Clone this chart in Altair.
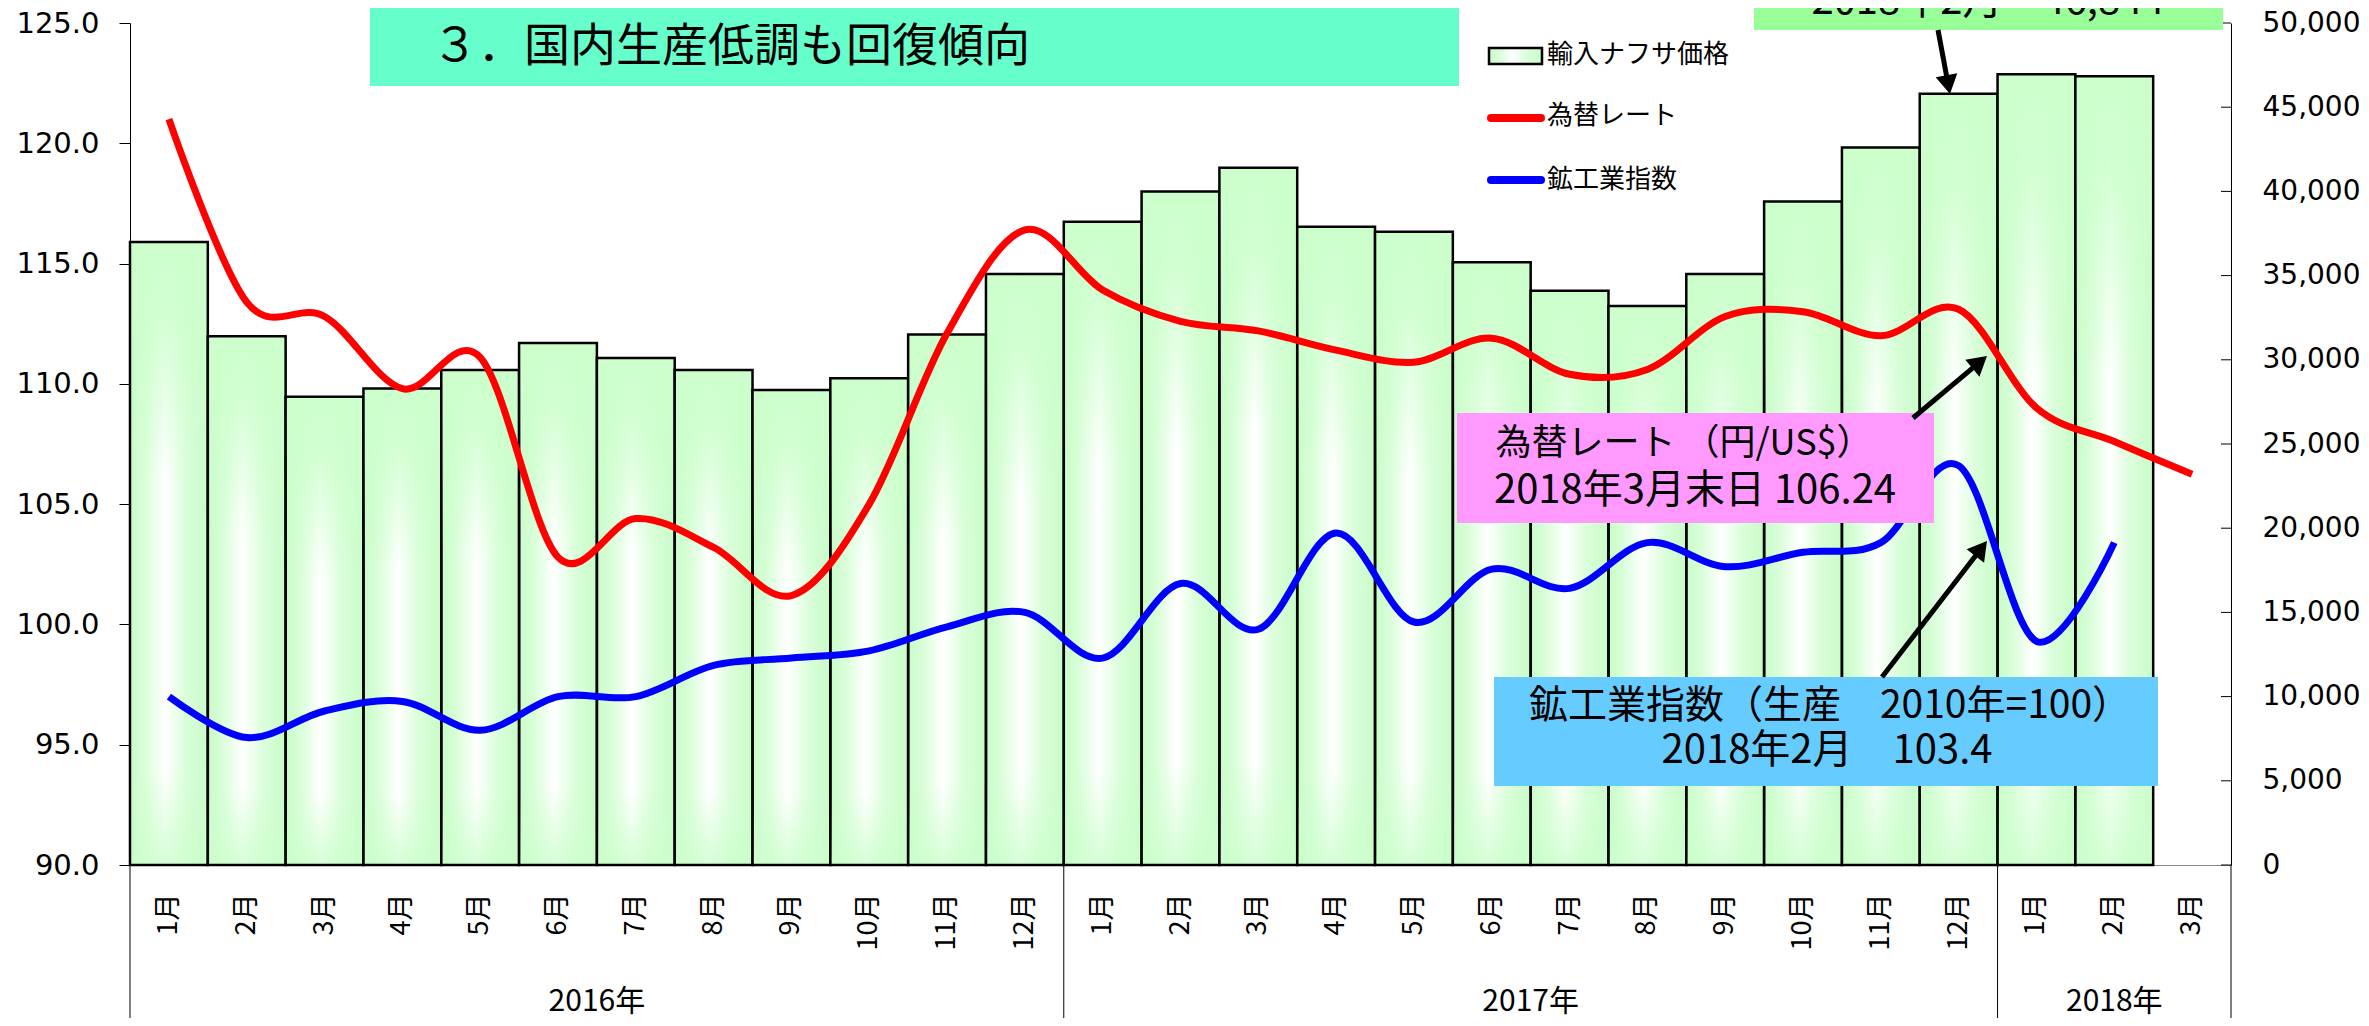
import math
import pandas as pd
import altair as alt

# ---------------- data ----------------
years = ["2016"] * 12 + ["2017"] * 12 + ["2018"] * 3
months = list(range(1, 13)) + list(range(1, 13)) + [1, 2, 3]
naphtha = [37000, 31400, 27800, 28300, 29400, 31000, 30100, 29400, 28200, 28900, 31500, 35100,
           38200, 40000, 41400, 37900, 37600, 35800, 34100, 33200, 35100, 39400, 42600, 45800,
           46950, 46844, None]
rate = [121.0, 113.4, 112.8, 109.8, 111.1, 102.8, 104.4, 103.2, 101.2, 105.0, 112.1, 116.4,
        113.9, 112.6, 112.2, 111.4, 110.9, 111.9, 110.4, 110.6, 112.8, 113.0, 112.0, 113.1,
        109.0, 107.6, 106.24]
iip = [97.0, 95.3, 96.4, 96.8, 95.6, 97.0, 97.0, 98.3, 98.6, 98.9, 99.9, 100.5,
       98.6, 101.7, 99.8, 103.8, 100.1, 102.3, 101.5, 103.4, 102.4, 103.0, 103.4, 106.6,
       99.3, 103.4, None]
left_ticks = [90, 95, 100, 105, 110, 115, 120, 125]
right_ticks = [0, 5000, 10000, 15000, 20000, 25000, 30000, 35000, 40000, 45000, 50000]
year_labels = ["2016年", "2017年", "2018年"]
legend_labels = ["輸入ナフサ価格", "為替レート", "鉱工業指数"]
title_text = "３．国内生産低調も回復傾向"
note_naphtha = "2018年2月　46,844"
note_rate = ["為替レート （円/US$）", "2018年3月末日 106.24"]
note_iip = ["鉱工業指数（生産　2010年=100）", "2018年2月　103.4"]

keys = [f"{y}_{m}" for y, m in zip(years, months)]
df = pd.DataFrame({"key": keys, "naphtha": naphtha, "rate": rate, "iip": iip})

# ---------------- styles ----------------
W, H = 2101, 842
FJP = "Noto Sans CJK JP"
FNUM = "DejaVu Sans"
one = pd.DataFrame({"a": [0]})

x_axis = alt.Axis(title=None, labelExpr="split(datum.value, '_')[1] + '月'",
                  labelAngle=270, labelAlign="right", labelBaseline="middle",
                  labelFont=FJP, labelFontSize=27, labelColor="black", labelPadding=28,
                  ticks=False, tickSize=0, domainColor="#888888", domainWidth=1,
                  labelOverlap=False, grid=False)


def xenc(band=None):
    kw = dict(shorthand="key:N",
              scale=alt.Scale(domain=keys, paddingInner=0, paddingOuter=0),
              axis=x_axis)
    if band is not None:
        kw["bandPosition"] = band
    return alt.X(**kw)


right_scale = alt.Scale(domain=[0, 50000], nice=False, zero=True)
right_axis = alt.Axis(orient="right", values=right_ticks, format=",.0f", title=None,
                      ticks=False, tickSize=0, labelPadding=31, labelFont=FNUM,
                      labelFontSize=28, labelColor="black", domainColor="black",
                      domainWidth=1, grid=False)
left_scale = alt.Scale(domain=[90, 125], nice=False, zero=False)
left_axis = alt.Axis(orient="left", values=left_ticks, format=".1f", title=None,
                     tickSize=11, tickColor="black", labelPadding=20, labelFont=FNUM,
                     labelFontSize=29, labelColor="black", domainColor="black",
                     domainWidth=1, grid=False)

grad_h = alt.LinearGradient(gradient="linear", x1=0, x2=1, y1=0, y2=0, stops=[
    alt.GradientStop(color="#C8FCC8", offset=0),
    alt.GradientStop(color="#DAFEDA", offset=0.2),
    alt.GradientStop(color="#FFFFFF", offset=0.45),
    alt.GradientStop(color="#DAFEDA", offset=0.72),
    alt.GradientStop(color="#C8FCC8", offset=1)])
grad_v = alt.LinearGradient(gradient="linear", x1=0, x2=0, y1=0, y2=1, stops=[
    alt.GradientStop(color="rgba(204,255,204,1)", offset=0),
    alt.GradientStop(color="rgba(204,255,204,0.85)", offset=0.12),
    alt.GradientStop(color="rgba(204,255,204,0)", offset=0.38),
    alt.GradientStop(color="rgba(204,255,204,0)", offset=0.85),
    alt.GradientStop(color="rgba(204,255,204,0.8)", offset=1)])

# ---------------- bars (right axis) ----------------
bars = alt.Chart(df).mark_bar(fill=grad_h, strokeWidth=0).encode(
    x=xenc(), y=alt.Y("naphtha:Q", scale=right_scale, axis=right_axis))
bars_ov = alt.Chart(df).mark_bar(fill=grad_v, stroke="black", strokeWidth=2.5).encode(
    x=xenc(), y=alt.Y("naphtha:Q", scale=right_scale, axis=right_axis))
rticks = alt.Chart(pd.DataFrame({"tv": right_ticks})).mark_rule(color="black", strokeWidth=1).encode(
    x=alt.value(W - 10), x2=alt.value(W),
    y=alt.Y("tv:Q", scale=right_scale, axis=right_axis))
bar_group = alt.layer(bars, bars_ov, rticks)

# ---------------- lines (left axis) ----------------
red = alt.Chart(df).mark_line(color="#FF0000", strokeWidth=7, interpolate="cardinal", tension=0).encode(
    x=xenc(0.5), y=alt.Y("rate:Q", scale=left_scale, axis=left_axis))
blue = alt.Chart(df).mark_line(color="#0000FF", strokeWidth=7, interpolate="cardinal", tension=0).encode(
    x=xenc(0.5), y=alt.Y("iip:Q", scale=left_scale, axis=left_axis))
line_group = alt.layer(red, blue)

# ---------------- category separators & year labels ----------------
sep_df = pd.DataFrame({"key": ["2016_1", "2017_1", "2018_1"]})
seps = alt.Chart(sep_df).mark_rule(color="black", strokeWidth=1).encode(
    x=xenc(0), y=alt.value(H), y2=alt.value(H + 153))
sep_end = alt.Chart(pd.DataFrame({"key": [keys[-1]]})).mark_rule(color="black", strokeWidth=1).encode(
    x=xenc(1), y=alt.value(H), y2=alt.value(H + 153))
yl_df = pd.DataFrame({"key": ["2016_7", "2017_7"], "t": year_labels[:2]})
ylab1 = alt.Chart(yl_df).mark_text(font=FJP, fontSize=30, color="black", baseline="middle").encode(
    x=xenc(0), y=alt.value(979), text="t:N")
ylab2 = alt.Chart(pd.DataFrame({"key": ["2018_2"], "t": [year_labels[2]]})).mark_text(
    font=FJP, fontSize=30, color="black", baseline="middle").encode(
    x=xenc(0.5), y=alt.value(979), text="t:N")


# ---------------- helpers for annotations ----------------
def box(x1, y1, x2, y2, color, **kw):
    return alt.Chart(one).mark_rect(fill=color, **kw).encode(
        x=alt.value(x1), x2=alt.value(x2), y=alt.value(y1), y2=alt.value(y2))


def label(txt, x, y, size, align="center", baseline="middle"):
    return alt.Chart(pd.DataFrame({"t": [txt]})).mark_text(
        font=FJP, fontSize=size, color="black", align=align, baseline=baseline).encode(
        x=alt.value(x), y=alt.value(y), text="t:N")


def arrow(tx, ty, hx, hy, width=5, size=484):
    dx, dy = hx - tx, hy - ty
    L = math.hypot(dx, dy)
    ux, uy = dx / L, dy / L
    r = math.sqrt(size) / 2
    h = math.sqrt(3) / 2 * r
    cx, cy = hx - ux * h, hy - uy * h
    ang = math.degrees(math.atan2(ux, -uy)) % 360
    line = alt.Chart(one).mark_rule(color="black", strokeWidth=width).encode(
        x=alt.value(tx), y=alt.value(ty), x2=alt.value(cx), y2=alt.value(cy))
    head = alt.Chart(one).mark_point(shape="triangle-up", filled=True, size=size, angle=ang,
                                     color="black", opacity=1).encode(
        x=alt.value(cx), y=alt.value(cy))
    return [line, head]


annots = []
# title
annots += [box(240, -15, 1329, 63, "#66FFCC"), label(title_text, 302, 24, 46, align="left")]
# legend
annots += [
    box(1359, 25, 1412, 41, grad_h, stroke="black", strokeWidth=2.5),
    alt.Chart(one).mark_rule(color="#FF0000", strokeWidth=8, strokeCap="round").encode(
        x=alt.value(1361), x2=alt.value(1411), y=alt.value(95)),
    alt.Chart(one).mark_rule(color="#0000FF", strokeWidth=8, strokeCap="round").encode(
        x=alt.value(1361), x2=alt.value(1411), y=alt.value(157)),
    label(legend_labels[0], 1417, 32, 26, align="left"),
    label(legend_labels[1], 1417, 93, 26, align="left"),
    label(legend_labels[2], 1417, 157, 26, align="left"),
]
# naphtha note (cut at top)
annots += [box(1624, -15, 2093, 7, "#99FF99"), label(note_naphtha, 1858, -9, 40, baseline="alphabetic")]
annots += arrow(1808, 7, 1820, 71)
# rate note
annots += [box(1327, 390, 1804, 500, "#FF99FF"),
           label(note_rate[0], 1554, 421, 36), label(note_rate[1], 1565, 468, 40)]
annots += arrow(1783, 395, 1857, 333)
# iip note
annots += [box(1364, 654, 2028, 763, "#66CCFF"),
           label(note_iip[0], 1700, 683, 39), label(note_iip[1], 1697, 728, 40)]
annots += arrow(1752, 654, 1857, 518)

chart = alt.layer(bar_group, line_group, seps, sep_end, ylab1, ylab2, *annots).resolve_scale(
    y="independent"
).properties(
    width=W, height=H,
    autosize=alt.AutoSizeParams(type="none"),
    padding={"left": 122, "top": 15, "right": 130, "bottom": 153},
).configure_view(strokeWidth=0)

chart.save("out.html", embed_options={"renderer": "svg", "actions": False})
